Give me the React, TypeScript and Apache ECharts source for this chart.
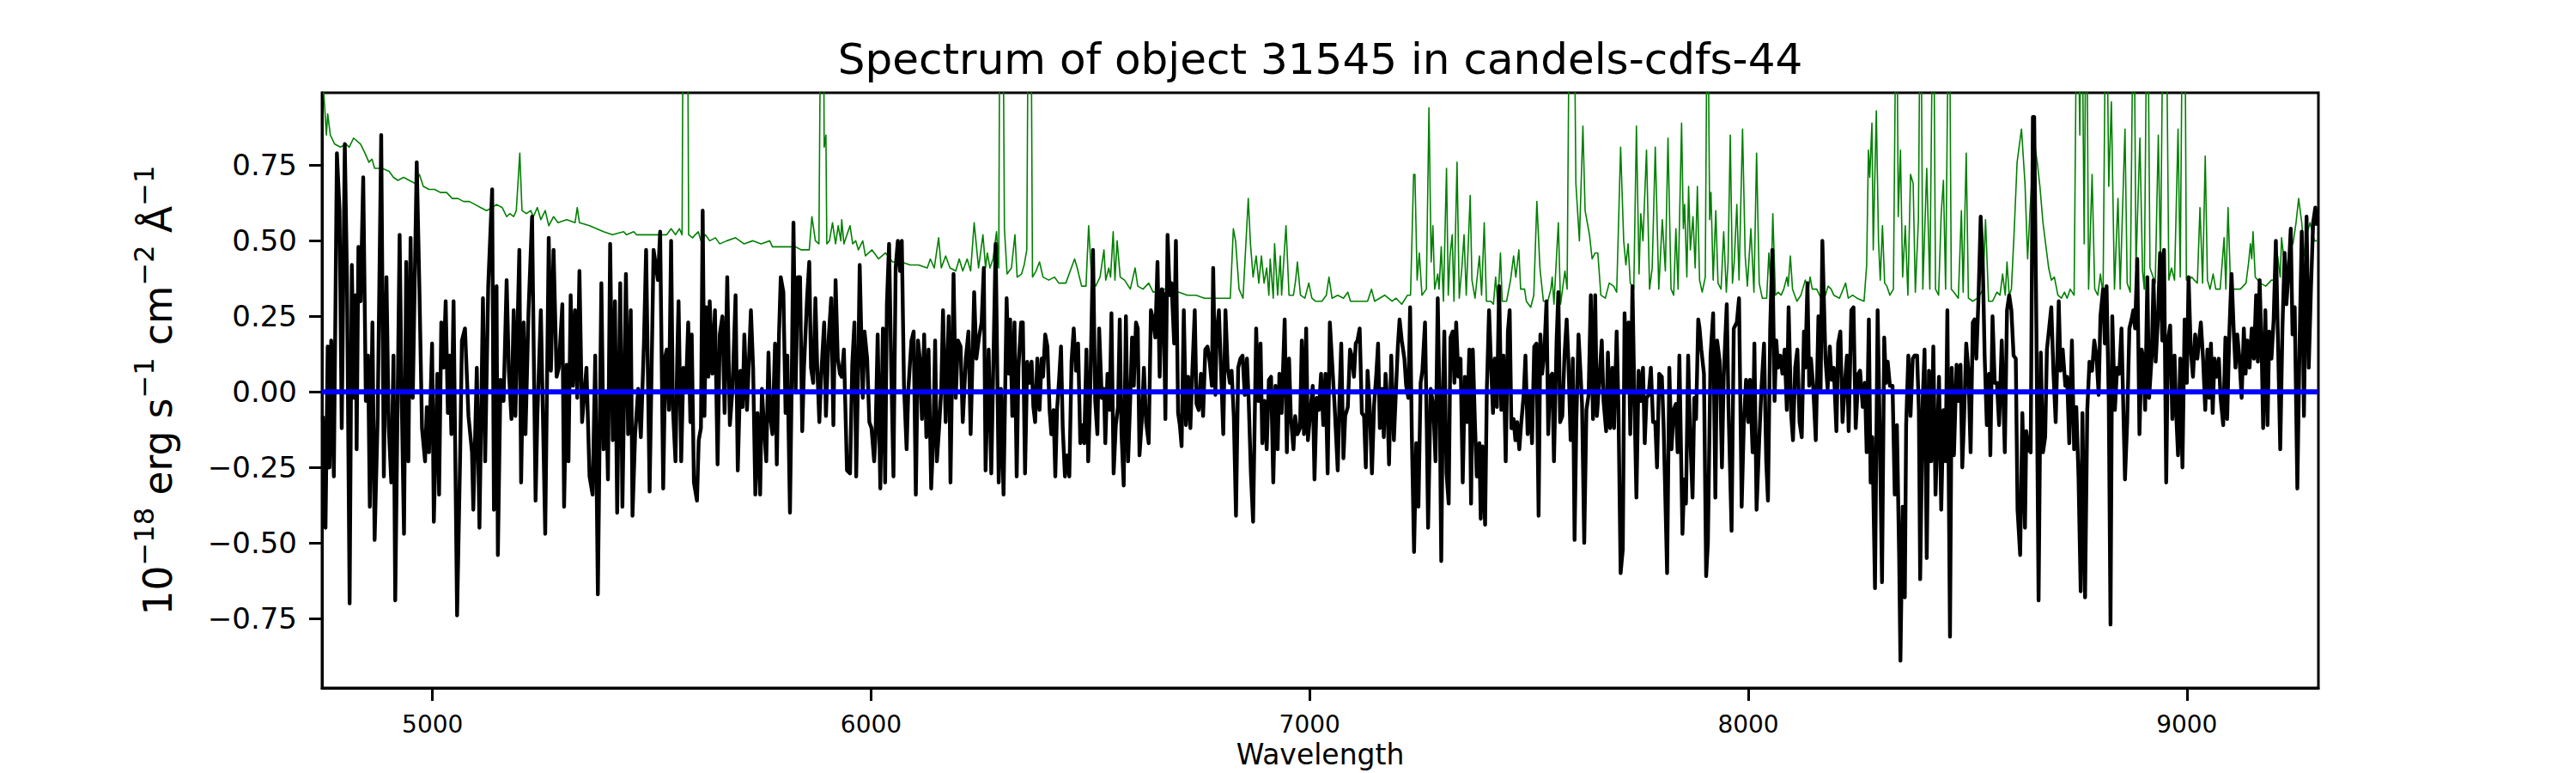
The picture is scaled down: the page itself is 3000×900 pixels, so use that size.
import React, { useEffect, useRef } from "react";
import * as echarts from "echarts";

const titleText = "Spectrum of object 31545 in candels-cdfs-44";
const xName = "Wavelength";
const yName = "{n|10}{s|\u221218}{n|\u00a0erg\u00a0s}{s|\u22121}{n|\u00a0cm}{s|\u22122}{n|\u00a0\u00c5}{s|\u22121}";
const xTicks = [5000, 6000, 7000, 8000, 9000];
const yTicks = [-0.75, -0.5, -0.25, 0, 0.25, 0.5, 0.75];
const X_MIN = 4748;
const X_MAX = 9300;
const Y_MIN = -0.98;
const Y_MAX = 0.99;

const fluxA: [number, number][] = [[4750,-0.08],[4756,-0.45],[4761,0.15],[4765,-0.25],[4769,0.17],[4775,-0.28],[4782,0.79],[4788,0.60],[4793,-0.12],[4800,0.82],[4805,0.37],[4811,-0.70],[4816,0.42],[4821,-0.02],[4825,0.32],[4827,-0.19],[4831,0.48],[4836,0.30],[4842,0.71],[4848,-0.03],[4853,0.12],[4857,-0.38],[4863,0.23],[4868,-0.49],[4875,-0.08],[4883,0.85],[4889,-0.28],[4895,0.38],[4900,-0.11],[4906,-0.30],[4911,0.12],[4915,-0.69],[4925,0.52],[4930,-0.05],[4935,-0.47],[4940,0.43],[4945,-0.23],[4950,0.51],[4955,-0.02],[4964,0.76],[4970,0.35],[4976,-0.12],[4983,-0.23],[4987,-0.05],[4992,-0.20],[4999,0.16],[5003,-0.43],[5011,0.06],[5015,-0.34],[5020,0.23],[5025,0.08],[5030,0.30],[5035,-0.07],[5039,0.12],[5043,-0.14],[5048,0.30],[5056,-0.74],[5063,-0.21],[5067,0.17],[5074,0.21],[5082,-0.08],[5090,-0.20],[5093,-0.39],[5101,0.08],[5107,-0.45],[5115,0.31],[5120,-0.23],[5127,0.35],[5136,0.67],[5140,-0.39],[5146,0.35],[5149,-0.54],[5155,0.04],[5162,-0.03],[5169,0.37],[5174,0.07],[5180,-0.09],[5185,0.27],[5189,-0.08],[5198,0.47],[5202,-0.30],[5208,0.23],[5212,-0.14],[5219,0.27],[5227,0.58],[5235,-0.36],[5239,-0.08],[5247,0.27],[5257,-0.47],[5265,0.51],[5270,0.07],[5276,0.47],[5283,0.05],[5288,0.08],[5296,0.29],[5300,-0.38],[5306,0.09],[5310,-0.23],[5315,0.32],[5320,0.02],[5325,0.27],[5330,-0.02],[5335,0.40],[5341,-0.10],[5351,0.08],[5358,-0.28],[5365,-0.34],[5371,0.12],[5377,-0.67],[5385,0.36],[5390,-0.19],[5396,-0.01],[5400,-0.29],[5405,0.49],[5411,-0.16],[5416,0.30],[5421,-0.40],[5428,0.36],[5433,-0.38],[5441,0.39],[5446,-0.14],[5452,0.27],[5456,-0.41],[5462,-0.14],[5469,0.01],[5475,-0.15],[5482,0.16],[5487,0.47],[5495,-0.33],[5504,0.47],[5514,0.37],[5519,0.53]];

const fluxB: [number, number][] = [[5526,-0.32],[5531,0.12],[5534,0.14],[5539,-0.06],[5544,0.50],[5548,-0.05],[5554,-0.23],[5558,0.11],[5561,0.30],[5567,-0.23],[5572,0.08],[5578,0.01],[5583,0.23],[5588,-0.10],[5591,0.19],[5596,-0.30],[5603,-0.36],[5607,-0.16],[5612,-0.12],[5616,0.60],[5620,-0.08],[5624,0.28],[5629,0.05],[5632,0.30],[5638,0.06],[5644,0.27],[5650,-0.24],[5655,0.19],[5661,0.25],[5666,-0.07],[5672,0.38],[5678,-0.11],[5684,0.01],[5691,0.32],[5696,-0.26],[5702,0.07],[5707,-0.05],[5711,0.19],[5717,-0.06],[5726,0.27],[5731,0.08],[5736,-0.34],[5741,-0.07],[5747,-0.34],[5751,0.01],[5756,-0.12],[5761,-0.23],[5766,0.13],[5770,-0.08],[5775,-0.14],[5781,0.16],[5785,-0.24],[5790,0.19],[5794,0.38],[5800,0.33],[5805,-0.07],[5809,0.12],[5815,-0.40],[5819,0.03],[5823,0.56],[5828,0.01],[5833,0.38],[5838,0.38],[5843,-0.13],[5847,0.08],[5854,0.31],[5859,0.43],[5863,0.08],[5868,0.03],[5873,0.31],[5877,0.09],[5882,-0.10],[5886,0.05],[5893,0.23],[5897,-0.08],[5903,0.17],[5909,0.31],[5914,-0.11],[5919,0.37],[5924,0.11],[5929,0.06],[5933,0.05],[5938,0.14],[5945,-0.26],[5952,-0.27],[5957,0.09],[5962,0.23],[5966,-0.28],[5971,0.11],[5974,0.42],[5981,-0.02],[5985,0.20],[5991,0.11],[5996,-0.10],[6001,-0.12],[6007,-0.23],[6010,-0.15],[6015,0.19],[6021,-0.32],[6027,0.21],[6032,-0.30],[6036,0.29],[6041,0.49],[6046,0.07],[6051,-0.28],[6056,0.41],[6061,0.50],[6066,0.40],[6070,0.50],[6075,0.02],[6081,-0.19],[6085,0.01],[6092,0.17],[6097,0.20],[6102,-0.34],[6107,0.17],[6111,0.11],[6116,-0.09],[6121,0.19],[6126,-0.15],[6131,0.14],[6137,-0.32],[6142,-0.14],[6146,0.17],[6150,-0.23],[6155,-0.12],[6160,0.01],[6164,0.27],[6170,-0.10],[6177,0.25],[6181,-0.30],[6188,0.39],[6193,-0.02],[6198,0.17],[6204,0.15],[6209,-0.10],[6216,0.11],[6222,0.20],[6227,-0.14],[6235,0.33],[6240,0.11],[6246,0.18],[6252,0.23],[6257,0.41],[6261,-0.26],[6268,0.14],[6274,-0.27]];

const fluxC: [number, number][] = [[6284,0.49],[6291,-0.30],[6296,0.01],[6302,-0.34],[6309,0.31],[6314,0.06],[6317,0.24],[6322,-0.08],[6327,0.23],[6332,-0.28],[6336,0.08],[6342,0.23],[6346,0.23],[6351,-0.27],[6356,0.10],[6361,0.03],[6366,0.10],[6370,-0.05],[6374,-0.10],[6379,0.11],[6384,-0.06],[6389,0.11],[6392,0.05],[6397,0.19],[6402,0.15],[6407,-0.06],[6411,-0.14],[6416,-0.06],[6420,-0.28],[6424,-0.06],[6429,0.05],[6433,0.15],[6437,-0.12],[6442,-0.28],[6447,-0.21],[6452,-0.28],[6457,0.10],[6462,0.21],[6467,0.07],[6472,0.16],[6477,-0.17],[6482,-0.11],[6486,-0.17],[6491,0.14],[6495,-0.23],[6499,-0.04],[6506,0.47],[6511,-0.03],[6516,-0.14],[6520,0.21],[6526,-0.02],[6531,0.01],[6534,-0.17],[6539,0.06],[6544,-0.06],[6548,0.26],[6553,-0.27],[6558,-0.11],[6563,-0.05],[6567,0.24],[6571,-0.14],[6576,-0.31],[6581,0.25],[6586,-0.23],[6591,-0.02],[6595,0.18],[6599,0.02],[6604,0.23],[6608,0.21],[6612,-0.21],[6617,-0.10],[6622,0.08],[6627,-0.10],[6633,-0.17],[6638,0.27],[6643,0.24],[6648,0.18],[6653,0.43],[6658,0.05],[6663,0.34],[6667,0.32],[6671,-0.09],[6676,0.52],[6681,0.32],[6685,0.36],[6691,0.16],[6695,0.50],[6700,-0.07],[6704,-0.11],[6708,-0.18],[6713,0.27],[6718,-0.11],[6723,0.05],[6728,-0.12],[6732,0.05],[6738,0.27],[6742,-0.04],[6747,-0.06],[6752,0.06],[6757,-0.08],[6762,0.14],[6767,0.15],[6772,0.10],[6777,0.02],[6780,0.41],[6785,-0.01],[6788,0.19],[6793,0.27],[6798,0.07],[6803,-0.14],[6808,0.27],[6813,0.08],[6818,0.03],[6822,0.07],[6827,-0.08],[6832,-0.41],[6837,0.08],[6842,0.11],[6847,0.12],[6852,-0.01],[6857,0.11],[6861,-0.03],[6866,-0.27],[6871,-0.43],[6878,0.21],[6883,-0.03],[6888,0.16],[6892,-0.17],[6897,-0.03],[6902,-0.19],[6907,0.04],[6912,0.05],[6917,-0.30],[6922,0.02],[6927,-0.19],[6931,0.06],[6936,-0.07],[6943,0.24],[6948,-0.20],[6953,0.11],[6957,-0.08],[6963,-0.19],[6967,-0.08],[6972,-0.14],[6978,-0.12],[6982,0.17],[6987,-0.14],[6992,0.21],[6996,-0.16],[7002,-0.06],[7007,0.02],[7011,-0.29],[7016,-0.02],[7021,-0.06],[7026,0.06],[7031,-0.11],[7036,0.06],[7041,-0.27],[7046,0.23]];

const fluxD: [number, number][] = [[7057,-0.05],[7064,-0.26],[7068,-0.02],[7072,0.16],[7077,-0.22],[7081,-0.08],[7087,-0.05],[7092,0.14],[7096,0.12],[7101,0.05],[7105,0.16],[7109,0.17],[7114,0.21],[7119,-0.07],[7124,-0.08],[7128,-0.25],[7132,0.07],[7137,-0.05],[7142,-0.27],[7147,-0.04],[7152,0.06],[7156,0.16],[7160,-0.12],[7165,0.01],[7169,-0.15],[7173,0.06],[7177,-0.03],[7181,-0.24],[7186,0.12],[7192,-0.16],[7196,-0.02],[7201,0.15],[7205,0.24],[7210,0.17],[7216,0.11],[7220,0.02],[7225,-0.02],[7229,0.28],[7233,-0.15],[7238,-0.53],[7243,-0.17],[7248,-0.38],[7253,0.03],[7257,0.07],[7263,0.23],[7267,-0.12],[7270,-0.45],[7276,0.01],[7282,-0.05],[7287,-0.23],[7292,0.31],[7297,-0.11],[7300,-0.56],[7304,0.00],[7307,0.20],[7312,-0.27],[7317,-0.37],[7321,0.18],[7326,0.20],[7330,0.03],[7334,0.23],[7339,0.05],[7344,0.11],[7349,-0.30],[7354,0.05],[7359,-0.10],[7364,0.14],[7368,-0.37],[7372,0.14],[7377,-0.11],[7381,-0.28],[7387,-0.17],[7390,-0.42],[7394,-0.18],[7400,-0.44],[7404,0.01],[7409,0.27],[7413,0.11],[7418,-0.07],[7422,0.11],[7427,-0.05],[7432,0.35],[7437,-0.06],[7442,0.12],[7447,-0.23],[7452,0.20],[7456,0.27],[7460,-0.12],[7465,-0.09],[7469,-0.16],[7473,-0.10],[7478,-0.19],[7482,-0.11],[7488,-0.01],[7492,0.12],[7497,-0.14],[7502,-0.01],[7507,-0.17],[7512,0.15],[7517,0.16],[7522,-0.41],[7526,0.19],[7530,0.06],[7535,0.13],[7540,0.30],[7544,-0.14],[7548,0.05],[7553,0.06],[7557,-0.23],[7563,0.17],[7567,0.33],[7571,-0.10],[7576,-0.08],[7581,0.12],[7586,0.24],[7590,0.10],[7595,-0.16],[7600,0.11],[7604,-0.49],[7608,-0.10],[7613,0.19],[7618,0.05],[7621,-0.04],[7626,-0.50],[7631,-0.06],[7636,-0.01],[7641,0.32],[7646,-0.09],[7651,0.32],[7655,-0.08],[7661,0.05],[7666,0.17],[7670,-0.03],[7676,-0.13],[7680,0.13],[7685,-0.12],[7690,0.08],[7694,-0.12],[7700,0.20],[7704,-0.05],[7709,-0.60],[7714,-0.52],[7718,0.26],[7722,0.01],[7727,0.23],[7731,-0.14],[7736,0.35],[7740,0.01],[7745,-0.35],[7750,0.07],[7755,-0.03],[7760,0.08],[7764,-0.17],[7768,-0.02],[7773,-0.01],[7778,0.08],[7783,-0.10],[7788,-0.10],[7792,-0.25],[7797,0.06],[7803,0.05],[7807,-0.11]];

const fluxE: [number, number][] = [[7815,-0.60],[7820,0.08],[7825,-0.19],[7830,-0.06],[7835,-0.04],[7839,-0.20],[7843,0.12],[7850,-0.47],[7854,-0.29],[7858,-0.37],[7863,0.12],[7867,-0.12],[7873,-0.35],[7877,-0.02],[7881,-0.09],[7886,0.24],[7889,0.21],[7893,0.14],[7899,0.06],[7904,-0.61],[7908,-0.50],[7914,0.12],[7920,0.26],[7925,-0.35],[7929,0.17],[7935,0.10],[7940,-0.25],[7944,0.05],[7951,0.29],[7955,-0.05],[7962,-0.46],[7967,0.21],[7974,0.23],[7979,0.31],[7985,-0.38],[7990,-0.10],[7995,0.04],[8000,-0.10],[8004,0.04],[8010,-0.20],[8014,0.16],[8019,-0.39],[8025,-0.16],[8030,0.01],[8036,0.16],[8041,-0.23],[8045,-0.36],[8050,0.21],[8055,0.47],[8060,-0.03],[8064,0.17],[8068,0.08],[8073,0.12],[8078,0.06],[8083,0.14],[8088,-0.06],[8092,0.28],[8098,-0.08],[8102,-0.16],[8107,0.08],[8112,0.14],[8117,-0.10],[8122,-0.15],[8127,0.20],[8130,0.08],[8135,0.36],[8139,0.02],[8143,0.11],[8148,0.02],[8154,-0.16],[8160,0.25],[8165,0.01],[8169,0.50],[8176,0.11],[8181,0.01],[8186,0.15],[8190,0.04],[8195,0.08],[8201,-0.13],[8205,0.16],[8210,0.20],[8215,-0.10],[8220,0.02],[8225,0.12],[8229,-0.13],[8235,0.27],[8240,0.28],[8245,-0.12],[8251,0.06],[8255,0.07],[8261,-0.05],[8266,0.03],[8270,-0.20],[8275,0.24],[8279,-0.30],[8283,-0.15],[8289,-0.65],[8295,0.27],[8300,-0.14],[8305,-0.63],[8310,0.18],[8314,0.03],[8318,0.10],[8323,0.02],[8329,0.02],[8334,-0.34],[8339,-0.11],[8344,-0.54],[8347,-0.89],[8352,-0.38],[8357,-0.68],[8360,-0.11],[8365,0.12],[8370,-0.08],[8375,0.11],[8379,0.12],[8385,0.12],[8389,-0.06],[8392,-0.62],[8398,-0.02],[8402,0.14],[8407,-0.55],[8412,0.07],[8417,-0.23],[8422,0.15],[8427,-0.34],[8432,-0.10],[8435,0.05],[8440,-0.39],[8445,-0.06],[8450,-0.23],[8454,0.27],[8460,-0.81],[8464,0.08],[8469,-0.21],[8475,0.09],[8479,-0.03],[8484,0.09],[8488,-0.25],[8492,-0.09],[8497,0.16],[8502,0.07],[8507,-0.20],[8512,0.23],[8516,0.24],[8520,0.11],[8525,0.31],[8530,0.58],[8535,0.41],[8539,0.12],[8544,-0.11],[8549,0.06],[8552,-0.21],[8557,0.25],[8562,0.03],[8567,0.03],[8572,-0.11]];

const fluxF: [number, number][] = [[8578,0.17],[8585,-0.20],[8590,0.27],[8595,0.32],[8600,0.27],[8605,0.12],[8610,0.11],[8614,-0.39],[8620,-0.54],[8625,-0.07],[8631,-0.45],[8634,-0.13],[8639,-0.19],[8644,-0.20],[8649,0.91],[8652,0.91],[8657,0.21],[8662,-0.69],[8667,0.13],[8672,-0.20],[8677,-0.15],[8681,0.14],[8686,0.21],[8691,0.28],[8696,0.06],[8701,-0.10],[8708,0.30],[8712,0.07],[8717,0.14],[8723,0.02],[8727,0.05],[8732,-0.17],[8738,0.17],[8743,-0.19],[8748,-0.05],[8753,-0.28],[8758,-0.66],[8762,-0.07],[8768,-0.68],[8773,-0.06],[8778,0.10],[8784,0.07],[8789,0.17],[8794,0.12],[8799,-0.01],[8803,0.25],[8809,0.34],[8813,0.16],[8817,0.35],[8822,-0.03],[8826,-0.77],[8830,0.25],[8836,-0.06],[8841,0.08],[8846,0.06],[8851,0.21],[8859,-0.29],[8864,-0.10],[8869,0.21],[8874,0.24],[8878,0.27],[8882,0.21],[8887,0.44],[8892,-0.14],[8897,0.14],[8901,0.11],[8905,-0.06],[8910,0.38],[8914,-0.02],[8920,0.12],[8924,0.37],[8929,0.10],[8934,0.24],[8939,0.46],[8944,0.17],[8948,0.47],[8953,-0.30],[8957,0.17],[8962,0.22],[8967,-0.09],[8972,0.12],[8976,-0.08],[8980,-0.21],[8985,0.11],[8990,-0.25],[8995,0.24],[9000,0.03],[9004,0.38],[9009,0.14],[9014,0.05],[9019,0.19],[9024,0.11],[9028,0.17],[9032,0.23],[9037,0.11],[9042,-0.06],[9047,0.14],[9051,-0.02],[9055,0.16],[9059,-0.07],[9063,0.11],[9068,0.05],[9073,0.11],[9077,-0.02],[9083,-0.11],[9088,0.18],[9092,-0.09],[9097,0.20],[9102,0.39],[9107,0.20],[9111,0.08],[9115,0.19],[9120,0.11],[9125,-0.02],[9130,0.21],[9134,0.06],[9138,0.17],[9143,0.08],[9148,0.21],[9153,0.11],[9158,0.32],[9162,0.10],[9166,0.37],[9171,0.11],[9174,-0.12],[9179,0.27],[9184,-0.11],[9188,0.20],[9193,0.11],[9198,0.24],[9203,0.50],[9208,0.16],[9213,-0.19],[9218,0.21],[9223,0.46],[9227,0.29],[9233,0.42],[9237,0.54],[9241,0.19],[9246,0.28],[9252,-0.32],[9257,0.15],[9262,0.53],[9267,-0.08],[9273,0.58],[9278,0.08],[9283,0.34],[9288,0.56],[9293,0.61],[9297,0.55]];

const skyA: [number, number][] = [[4748,1.05],[4752,0.99],[4758,0.85],[4761,0.92],[4767,0.85],[4777,0.82],[4790,0.81],[4803,0.82],[4810,0.81],[4820,0.84],[4836,0.82],[4846,0.79],[4855,0.76],[4862,0.77],[4868,0.74],[4885,0.74],[4901,0.73],[4911,0.71],[4921,0.70],[4934,0.71],[4947,0.70],[4960,0.69],[4970,0.72],[4979,0.68],[4992,0.67],[5005,0.67],[5018,0.66],[5032,0.66],[5045,0.64],[5058,0.64],[5071,0.63],[5084,0.63],[5097,0.62],[5110,0.61],[5123,0.60],[5136,0.61],[5146,0.62],[5159,0.61],[5169,0.58],[5176,0.59],[5185,0.58],[5191,0.60],[5199,0.79],[5204,0.60],[5214,0.59],[5224,0.60],[5230,0.58],[5239,0.61],[5247,0.57],[5257,0.60],[5265,0.55],[5276,0.58],[5286,0.56],[5306,0.57],[5325,0.56],[5330,0.61],[5335,0.56],[5358,0.55],[5374,0.54],[5390,0.53],[5410,0.52],[5436,0.53],[5442,0.52],[5459,0.53],[5465,0.52],[5488,0.52],[5514,0.52]];

const skyB: [number, number][] = [[5521,0.52],[5534,0.52],[5544,0.54],[5554,0.52],[5563,0.54],[5569,0.52],[5572,1.5],[5576,1.5],[5581,1.5],[5584,0.52],[5593,0.51],[5599,0.52],[5606,0.53],[5612,0.50],[5622,0.52],[5632,0.50],[5645,0.51],[5655,0.49],[5671,0.50],[5691,0.51],[5710,0.49],[5730,0.50],[5749,0.49],[5769,0.50],[5775,0.48],[5801,0.48],[5828,0.48],[5841,0.47],[5859,0.47],[5865,0.58],[5873,0.50],[5881,0.49],[5886,1.5],[5891,1.5],[5893,0.81],[5897,0.85],[5899,0.49],[5905,0.50],[5912,0.56],[5919,0.49],[5925,0.55],[5931,0.50],[5933,0.57],[5938,0.49],[5945,0.52],[5952,0.55],[5958,0.49],[5965,0.50],[5971,0.47],[5981,0.50],[5987,0.45],[6002,0.47],[6017,0.44],[6033,0.46],[6049,0.43],[6069,0.43],[6089,0.42],[6108,0.42],[6128,0.41],[6135,0.44],[6144,0.41],[6154,0.51],[6160,0.41],[6170,0.45],[6180,0.41],[6193,0.40],[6201,0.44],[6209,0.40],[6219,0.44],[6227,0.40],[6235,0.56],[6245,0.41],[6255,0.52],[6261,0.41]];

const skyC: [number, number][] = [[6265,0.46],[6271,0.41],[6278,0.44],[6286,0.53],[6291,0.41],[6294,1.5],[6300,1.5],[6304,0.54],[6310,0.39],[6320,0.41],[6328,0.52],[6333,0.38],[6343,0.39],[6349,0.42],[6355,0.47],[6359,1.5],[6364,1.5],[6368,0.38],[6376,0.40],[6384,0.43],[6392,0.38],[6405,0.37],[6418,0.38],[6428,0.36],[6444,0.36],[6454,0.40],[6464,0.44],[6470,0.41],[6480,0.35],[6490,0.35],[6496,0.55],[6503,0.37],[6512,0.35],[6522,0.38],[6531,0.47],[6535,0.37],[6542,0.41],[6546,0.38],[6552,0.53],[6556,0.37],[6561,0.50],[6568,0.38],[6578,0.37],[6591,0.34],[6602,0.41],[6608,0.35],[6620,0.34],[6633,0.36],[6643,0.33],[6663,0.34],[6682,0.34],[6702,0.33],[6721,0.32],[6741,0.32],[6760,0.31],[6786,0.31],[6806,0.31],[6819,0.31],[6826,0.54],[6831,0.50],[6839,0.34],[6848,0.31],[6860,0.64],[6865,0.49],[6871,0.38],[6878,0.45],[6884,0.36],[6890,0.45],[6896,0.36],[6902,0.41],[6907,0.32],[6910,0.44],[6917,0.31],[6920,0.49],[6927,0.32],[6933,0.45],[6936,0.32],[6946,0.55],[6953,0.32],[6963,0.32],[6968,0.37],[6972,0.43],[6979,0.32],[6989,0.31],[6998,0.36],[7005,0.31],[7013,0.30]];

const skyD: [number, number][] = [[7028,0.30],[7038,0.32],[7044,0.38],[7051,0.31],[7064,0.32],[7077,0.31],[7087,0.33],[7093,0.30],[7113,0.30],[7126,0.30],[7132,0.30],[7141,0.34],[7148,0.30],[7171,0.32],[7188,0.30],[7197,0.31],[7210,0.29],[7223,0.32],[7230,0.32],[7237,0.72],[7240,0.72],[7245,0.37],[7250,0.46],[7256,0.32],[7266,0.34],[7272,0.94],[7277,0.43],[7281,0.55],[7285,0.34],[7292,0.39],[7295,0.34],[7300,0.48],[7305,0.30],[7312,0.74],[7316,0.32],[7320,0.45],[7325,0.52],[7329,0.30],[7336,0.76],[7341,0.31],[7347,0.41],[7352,0.52],[7357,0.32],[7366,0.65],[7370,0.37],[7377,0.31],[7387,0.45],[7392,0.32],[7398,0.56],[7403,0.30],[7413,0.30],[7419,0.29],[7424,0.38],[7429,0.29],[7435,0.46],[7439,0.30],[7449,0.30],[7458,0.37],[7465,0.45],[7470,0.38],[7477,0.47],[7481,0.34],[7490,0.34],[7494,0.30],[7504,0.28],[7511,0.32],[7518,0.63],[7525,0.41],[7530,0.34],[7533,0.30],[7543,0.30],[7550,0.34],[7553,0.38],[7557,0.29],[7567,0.56],[7572,0.29],[7582,0.40],[7587,0.34],[7593,1.5],[7602,1.5],[7607,0.69],[7615,0.50],[7623,0.88],[7628,0.60],[7638,0.52],[7644,0.44],[7651,0.46],[7657,0.46],[7664,0.32],[7674,0.31],[7683,0.36],[7693,0.35],[7700,0.33],[7709,0.81],[7716,0.50],[7721,0.42],[7726,0.49],[7731,0.36],[7739,0.34],[7745,0.88],[7751,0.39],[7755,0.59],[7760,0.50],[7768,0.80],[7775,0.34],[7781,0.41],[7788,0.81],[7796,0.34],[7804,0.57],[7811,0.40]];

const skyE: [number, number][] = [[7817,0.84],[7824,0.34],[7830,0.32],[7835,0.54],[7840,0.34],[7848,0.89],[7852,0.54],[7855,0.62],[7860,0.38],[7864,0.68],[7868,0.47],[7874,0.58],[7879,0.41],[7884,0.68],[7889,0.37],[7895,0.33],[7902,0.38],[7907,1.5],[7912,0.57],[7915,0.66],[7920,0.37],[7926,0.60],[7931,0.36],[7938,0.34],[7944,0.53],[7950,0.33],[7954,0.43],[7959,0.85],[7964,0.36],[7968,0.43],[7974,0.62],[7979,0.37],[7987,0.87],[7993,0.45],[7998,0.35],[8006,0.54],[8013,0.33],[8019,0.79],[8025,0.36],[8032,0.31],[8042,0.31],[8047,0.46],[8052,0.34],[8056,0.59],[8062,0.32],[8068,0.33],[8075,0.32],[8081,0.34],[8088,0.38],[8091,0.35],[8096,0.45],[8101,0.34],[8111,0.30],[8120,0.32],[8130,0.37],[8137,0.34],[8141,0.38],[8146,0.34],[8156,0.34],[8166,0.31],[8176,0.32],[8182,0.35],[8189,0.34],[8195,0.32],[8208,0.31],[8222,0.36],[8228,0.31],[8238,0.32],[8248,0.31],[8264,0.30],[8270,0.42],[8274,0.80],[8277,0.71],[8282,0.89],[8285,0.47],[8292,0.93],[8297,0.50],[8301,0.37],[8306,0.55],[8311,0.36],[8316,0.35],[8323,0.32],[8331,0.34],[8338,1.5],[8342,0.58],[8347,0.80],[8352,0.38],[8358,0.55],[8364,0.32],[8370,0.72],[8376,0.69],[8381,0.33],[8388,0.57],[8393,1.5],[8398,0.34],[8407,0.74],[8414,0.34],[8422,1.5],[8427,0.34],[8434,0.32],[8440,0.59],[8445,0.70],[8450,0.34],[8458,1.5],[8463,0.34],[8469,0.33],[8479,0.31],[8486,0.60],[8490,0.33],[8497,0.79],[8502,0.31],[8512,0.30],[8522,0.31],[8528,0.32],[8535,0.34],[8541,0.57],[8548,0.30],[8557,0.30],[8567,0.33],[8574,0.32]];

const skyF: [number, number][] = [[8580,0.39],[8586,0.32],[8590,0.43],[8595,0.32],[8600,0.34],[8606,0.52],[8613,0.76],[8623,0.87],[8631,0.69],[8637,0.44],[8642,0.59],[8652,0.83],[8659,0.76],[8665,0.68],[8672,0.56],[8678,0.49],[8685,0.41],[8691,0.37],[8698,0.38],[8706,0.32],[8714,0.31],[8721,0.33],[8727,0.31],[8734,0.34],[8743,0.32],[8750,1.5],[8756,0.85],[8760,1.5],[8766,0.49],[8771,1.5],[8776,0.34],[8784,0.72],[8790,0.34],[8797,0.32],[8803,0.39],[8809,0.32],[8816,1.5],[8822,0.68],[8828,0.96],[8835,0.34],[8843,0.64],[8848,0.34],[8859,0.87],[8864,0.36],[8871,0.33],[8879,1.5],[8884,0.41],[8893,0.84],[8899,0.40],[8903,0.34],[8910,1.5],[8916,0.41],[8923,0.38],[8928,0.36],[8935,0.85],[8940,0.41],[8947,1.5],[8952,1.5],[8959,0.37],[8965,0.41],[8972,0.37],[8980,0.87],[8985,0.38],[8991,1.5],[8995,1.5],[8999,0.37],[9004,0.37],[9011,0.38],[9017,0.37],[9024,0.36],[9030,0.61],[9036,0.36],[9042,0.78],[9047,0.37],[9053,0.34],[9060,0.39],[9066,0.34],[9076,0.34],[9085,0.51],[9089,0.34],[9094,0.61],[9100,0.34],[9109,0.34],[9122,0.34],[9135,0.36],[9141,0.43],[9145,0.49],[9148,0.44],[9151,0.53],[9156,0.38],[9167,0.36],[9180,0.35],[9193,0.37],[9200,0.37],[9207,0.45],[9213,0.38],[9216,0.51],[9223,0.42],[9229,0.41],[9236,0.50],[9242,0.49],[9249,0.56],[9255,0.64],[9262,0.56],[9268,0.45],[9275,0.53],[9281,0.56],[9291,0.50],[9297,0.50]];

const zeroLine: [number, number][] = [[X_MIN, 0], [X_MAX, 0]];

const flux = [...fluxA, ...fluxB, ...fluxC, ...fluxD, ...fluxE, ...fluxF];
const sky = [...skyA, ...skyB, ...skyC, ...skyD, ...skyE, ...skyF];

const FONT = "DejaVu Sans";

export default function App() {
  const ref = useRef<HTMLDivElement>(null);
  useEffect(() => {
    document.body.style.margin = "0";
    const chart = echarts.init(ref.current as HTMLDivElement, null, { renderer: "svg" });
    const axisLineStyle = { color: "#000", width: 3 };
    chart.setOption({
      animation: false,
      backgroundColor: "#ffffff",
      grid: {
        left: 375,
        right: 300,
        top: 108,
        bottom: 99,
        show: true,
        borderColor: "#000",
        borderWidth: 3,
        backgroundColor: "transparent",
        containLabel: false,
      },
      graphic: [
        {
          type: "text",
          x: 1537.5,
          y: 69,
          style: {
            text: titleText,
            fontSize: 50,
            fontFamily: FONT,
            fill: "#000",
            align: "center",
            verticalAlign: "middle",
            textAlign: "center",
            textVerticalAlign: "middle",
          },
        },
      ],
      xAxis: {
        type: "value",
        min: X_MIN,
        max: X_MAX,
        name: xName,
        nameLocation: "middle",
        nameGap: 59,
        nameTextStyle: { fontSize: 33, fontFamily: FONT, color: "#000" },
        axisLine: { show: true, onZero: false, lineStyle: axisLineStyle },
        axisTick: { show: true, inside: false, length: 15, customValues: xTicks, lineStyle: axisLineStyle },
        axisLabel: {
          show: true,
          customValues: xTicks,
          margin: 28,
          fontSize: 28,
          fontFamily: FONT,
          color: "#000",
          formatter: (v: number) => String(v),
        },
        splitLine: { show: false },
      },
      yAxis: {
        type: "value",
        min: Y_MIN,
        max: Y_MAX,
        name: yName,
        nameLocation: "middle",
        nameRotate: 90,
        nameGap: 158,
        nameTextStyle: {
          fontFamily: FONT,
          color: "#000",
          rich: {
            n: { fontSize: 45.5, lineHeight: 65, fontFamily: FONT, color: "#000" },
            s: { fontSize: 32, lineHeight: 33, verticalAlign: "top", fontFamily: FONT, color: "#000" },
          },
        },
        axisLine: { show: true, onZero: false, lineStyle: axisLineStyle },
        axisTick: { show: true, inside: false, length: 15, customValues: yTicks, lineStyle: axisLineStyle },
        axisLabel: {
          show: true,
          customValues: yTicks,
          margin: 29,
          fontSize: 34,
          fontFamily: FONT,
          color: "#000",
          formatter: (v: number) => (v < 0 ? "\u2212" : "") + Math.abs(v).toFixed(2),
        },
        splitLine: { show: false },
      },
      series: [
        {
          type: "line",
          name: "sky",
          data: sky,
          symbol: "none",
          showSymbol: false,
          clip: true,
          z: 2,
          lineStyle: { color: "#008000", width: 1.6, join: "round" },
          emphasis: { disabled: true },
        },
        {
          type: "line",
          name: "flux",
          data: flux,
          symbol: "none",
          showSymbol: false,
          clip: true,
          z: 3,
          lineStyle: { color: "#000000", width: 4.4, join: "round" },
          emphasis: { disabled: true },
        },
        {
          type: "line",
          name: "zero",
          data: zeroLine,
          symbol: "none",
          showSymbol: false,
          clip: true,
          z: 4,
          lineStyle: { color: "#0000ff", width: 6 },
          emphasis: { disabled: true },
        },
      ],
    });
    return () => chart.dispose();
  }, []);
  return <div ref={ref} style={{ width: 3000, height: 900, position: "absolute", left: 0, top: 0 }} />;
}
